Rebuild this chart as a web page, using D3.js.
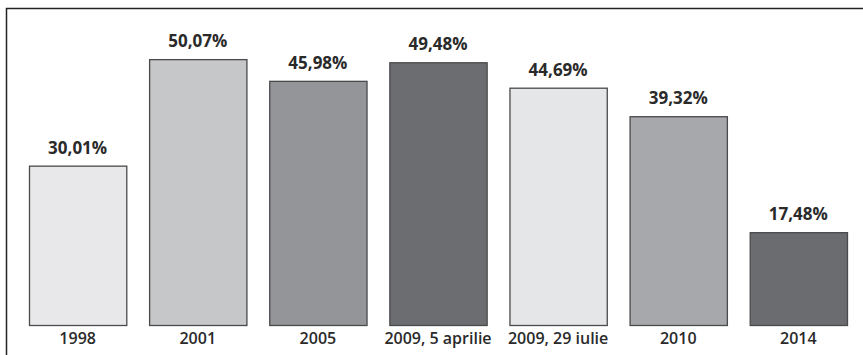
<!DOCTYPE html>
<html>
<head>
<meta charset="utf-8">
<script src="https://cdn.jsdelivr.net/npm/d3@7"></script>
<style>
  body { margin: 0; background: #fff; }
  svg { display: block; }
</style>
</head>
<body>
<svg id="chart"></svg>
<script>
const categories = ["1998", "2001", "2005", "2009, 5 aprilie", "2009, 29 iulie", "2010", "2014"];
const values = [30.01, 50.07, 45.98, 49.48, 44.69, 39.32, 17.48];
const labels = ["30,01%", "50,07%", "45,98%", "49,48%", "44,69%", "39,32%", "17,48%"];
const fills = ["#e8e8ea", "#c6c7c9", "#949598", "#6c6d71", "#e5e6e8", "#a7a8ab", "#6b6c70"];

const width = 863, height = 355;
const svg = d3.select("#chart").attr("width", width).attr("height", height);

// frame: only top and left edges visible
svg.append("path")
    .attr("d", "M6.5,355 V8.5 H863")
    .attr("fill", "none")
    .attr("stroke", "#222")
    .attr("stroke-width", 1.5);

const x = d3.scaleBand()
    .domain(categories)
    .range([29, 847])
    .paddingInner(0.19)
    .paddingOuter(0);

const baseline = 325;
const y = d3.scaleLinear()
    .domain([0, 60])
    .range([baseline, baseline - 60 * 5.31]);

const data = categories.map((c, i) => ({ cat: c, value: values[i], label: labels[i], fill: fills[i] }));

svg.append("g")
    .selectAll("rect")
    .data(data)
    .enter().append("rect")
    .attr("x", d => x(d.cat) + 0.5)
    .attr("y", d => y(d.value) + 0.5)
    .attr("width", x.bandwidth())
    .attr("height", d => y(0) - y(d.value))
    .attr("fill", d => d.fill)
    .attr("stroke", "#4a4a4c")
    .attr("stroke-width", 1.3);

svg.append("g")
    .selectAll("text")
    .data(data)
    .enter().append("text")
    .attr("x", d => x(d.cat) + x.bandwidth() / 2)
    .attr("y", d => y(d.value) - 12)
    .attr("text-anchor", "middle")
    .attr("font-family", "'Open Sans', sans-serif")
    .attr("font-weight", 700)
    .attr("font-size", 17)
    .attr("fill", "#2a2a2a")
    .text(d => d.label);

svg.append("g")
    .selectAll("text")
    .data(data)
    .enter().append("text")
    .attr("x", d => x(d.cat) + x.bandwidth() / 2)
    .attr("y", 344)
    .attr("text-anchor", "middle")
    .attr("font-family", "'Open Sans', sans-serif")
    .attr("font-weight", 600)
    .attr("font-size", 16)
    .attr("fill", "#2a2a2a")
    .text(d => d.cat);
</script>
</body>
</html>
